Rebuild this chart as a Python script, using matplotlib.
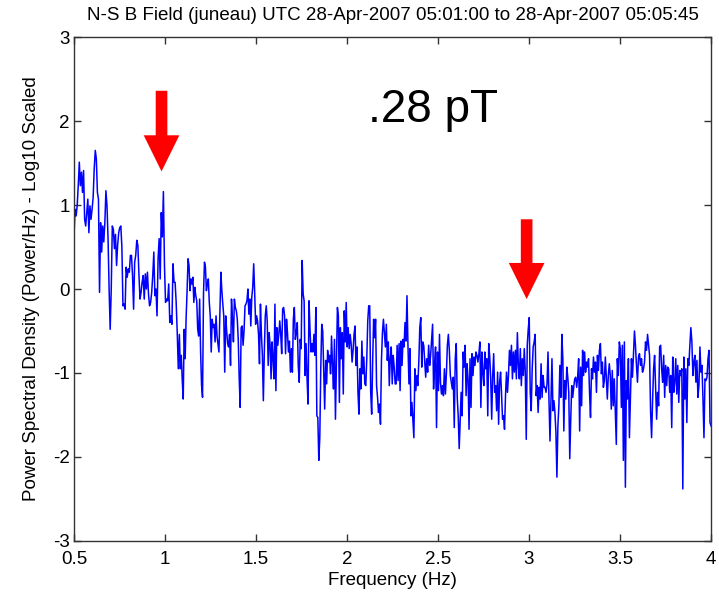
import numpy as np
import matplotlib
matplotlib.use("Agg")
import matplotlib.pyplot as plt
from matplotlib.patches import FancyArrow

plt.rcParams["font.family"] = ["Liberation Sans", "DejaVu Sans"]
plt.rcParams["axes.unicode_minus"] = False

# Log10 PSD values, in six consecutive frequency pieces
seg_edges = [0.5, 1.079, 1.673, 2.270, 2.860, 3.452, 4.0]

psd_seg1 = [
    0.62, 0.95, 0.87, 0.99, 1.23, 1.51, 1.23, 1.39, 1.15, 1.41,
    0.83, 0.75, 0.91, 1.07, 0.67, 0.99, 0.83, 0.95, 1.09, 1.43,
    1.65, 1.55, 1.15, 1.07, -0.04, 0.79, 0.44, 0.75, 0.56, 0.79,
    1.17, 0.99, 0.60, 0.00, -0.48, 0.00, 0.75, 0.71, 0.48, 0.65,
    0.28, 0.52, 0.67, 0.73, 0.75, 0.50, -0.20, -0.18, -0.24, 0.26,
    0.14, 0.24, 0.20, 0.40, 0.40, 0.16, -0.24, 0.32, 0.40, 0.58,
    0.52, 0.18, -0.12, -0.04, 0.08, 0.16, -0.12, 0.18, 0.00, 0.20,
    -0.06, -0.20, -0.16, -0.04, 0.16, 0.44, -0.08, 0.00, -0.32, 0.36,
    0.60, 0.12, 0.91, 0.62, 1.16, 0.28, -0.16, -0.12, -0.14, 0.06,
    -0.40, -0.32, -0.42, 0.30, 0.08, 0.08, -0.16, -0.52, -0.95,
]

psd_seg2 = [
    -0.54, -0.95, -0.79, -1.09, -1.31, -0.48, -0.83, -0.34, -0.02, 0.36,
    0.28, -0.02, 0.12, 0.06, 0.14, -0.16, 0.02, -0.08, -0.14, -0.48,
    -0.56, -0.12, -0.75, -1.15, -1.29, -0.06, 0.32, 0.26, -0.02, 0.06,
    0.12, -0.16, -0.32, -0.75, -0.36, -0.46, -0.42, -0.63, -0.32, -0.56,
    -0.65, -0.75, -0.30, 0.20, -0.02, -0.18, -0.32, -0.99, -0.32, -0.50,
    -0.65, -0.69, -0.54, -0.91, -0.12, -0.36, -0.63, -0.12, -0.22, -0.26,
    -0.36, -0.60, -1.07, -1.41, -0.46, -0.44, -0.67, -0.50, -0.20, -0.18,
    -0.14, 0.00, -0.30, -0.12, -0.44, -0.10, 0.02, 0.30, -0.04, -0.42,
    -0.32, -0.38, -0.54, -0.89, -0.18, -0.54, -0.79, -1.33, -0.75, -0.32,
    -0.20, -0.38, -0.91, -0.52, -0.67, -1.07, -0.63, -0.83, -1.07, -0.18,
    -1.21, -0.46, -0.67, -0.54, -0.38, -0.54, -0.77, -0.24, -0.22, -0.32,
    -0.77, -0.36,
]

psd_seg3 = [
    -0.52, -0.75, -0.62, -0.99, -0.71, -0.99, -0.36, -0.22, -0.60, -0.52,
    -0.40, -0.91, -1.11, -0.60, -0.71, 0.34, -0.06, -0.14, -1.03, -0.65,
    -1.07, -1.37, -0.14, -0.48, -0.75, -0.65, -0.75, -0.54, -0.79, -0.22,
    -1.51, -1.53, -2.04, -1.77, -0.95, -0.42, -0.50, -0.95, -1.43, -0.85,
    -1.13, -0.73, -0.87, -0.79, -1.01, -0.56, -0.91, -1.19, -0.60, -1.55,
    -0.89, -0.22, -0.32, -1.35, -0.46, -0.83, -0.52, -1.25, -0.26, -0.63,
    -0.16, -0.69, -0.46, -0.71, -0.54, -0.65, -0.87, -0.73, -0.54, -0.44,
    -0.91, -0.69, -1.23, -1.49, -0.95, -1.19, -0.62, -1.01, -0.81, -1.13,
    -1.15, -0.83, -0.38, -0.20, -0.20, -1.23, -1.49, -0.87, -0.36, -0.58,
    -0.36, -1.15, -1.29, -1.47, -1.37, -1.61, -0.85, -0.52, -0.36, -0.52,
    -0.69, -0.42, -0.85, -0.63, -1.15, -0.83, -0.69, -1.13, -0.79, -0.93,
    -1.13,
]

psd_seg4 = [
    -1.13, -0.67, -1.09, -0.65, -1.21, -0.62, -0.91, -0.60, -0.69, -0.40,
    -0.62, -0.08, -0.67, -1.13, -0.71, -1.51, -1.35, -1.55, -1.77, -0.95,
    -1.21, -1.03, -1.15, -0.87, -0.46, -0.34, -0.93, -0.63, -0.67, -0.85,
    -1.05, -0.83, -0.99, -0.67, -0.91, -0.79, -0.60, -0.42, -1.19, -0.91,
    -0.69, -1.65, -0.75, -1.21, -0.54, -1.11, -1.25, -1.15, -1.27, -0.95,
    -1.25, -1.01, -0.67, -0.54, -0.73, -1.03, -1.11, -1.19, -1.05, -1.65,
    -0.83, -0.65, -1.29, -1.51, -1.90, -1.57, -1.23, -1.51, -0.75, -0.93,
    -0.67, -1.27, -0.89, -1.07, -1.67, -0.83, -1.41, -0.77, -1.03, -0.81,
    -0.91, -0.75, -0.79, -0.87, -0.77, -0.63, -1.41, -0.75, -0.99, -1.15,
    -0.75, -0.95, -0.83, -1.51, -0.65, -0.81, -1.07, -1.55, -1.03, -0.77,
    -1.23, -1.15, -1.45, -0.99, -1.61, -1.11, -0.99, -1.25, -1.55,
]

psd_seg5 = [
    -1.51, -1.67, -1.27, -0.99, -1.23, -1.03, -0.73, -0.91, -0.67, -1.07,
    -0.75, -0.99, -0.73, -1.07, -0.52, -0.91, -1.07, -0.71, -1.15, -0.83,
    -1.03, -0.71, -0.99, -1.79, -0.67, -0.48, -0.34, -1.23, -1.45, -0.95,
    -0.69, -0.63, -0.54, -1.27, -1.15, -1.47, -1.17, -1.31, -0.89, -1.29,
    -1.03, -1.17, -1.17, -1.23, -1.13, -0.75, -1.33, -1.81, -1.31, -0.83,
    -1.45, -1.33, -1.47, -1.71, -2.24, -1.63, -1.39, -0.91, -1.29, -0.54,
    -0.83, -1.69, -1.09, -1.31, -0.93, -1.05, -1.23, -2.02, -1.55, -1.15,
    -1.29, -1.17, -1.07, -1.05, -1.17, -1.05, -0.83, -1.69, -0.93, -1.39,
    -0.73, -1.03, -0.75, -0.99, -0.87, -0.93, -0.83, -1.23, -1.53, -0.95,
    -1.07, -0.81, -0.99, -0.87, -1.23, -0.79, -0.97, -0.73, -0.65, -1.01,
    -0.87, -1.17, -1.09, -0.81, -1.07, -1.31, -1.03, -0.89, -1.03,
]

psd_seg6 = [
    -1.43, -0.97, -1.39, -1.07, -1.47, -1.85, -0.83, -1.03, -0.63, -0.71,
    -1.41, -0.67, -2.04, -0.63, -2.36, -1.09, -1.31, -0.83, -1.77, -1.31,
    -0.83, -1.05, -0.79, -0.50, -0.67, -0.91, -1.11, -0.81, -0.77, -0.91,
    -0.83, -0.99, -0.95, -0.87, -0.63, -0.73, -0.54, -0.67, -0.79, -1.45,
    -1.77, -1.33, -0.95, -0.79, -1.17, -1.55, -1.23, -1.39, -0.69, -0.67,
    -0.95, -1.11, -0.79, -1.29, -0.91, -1.15, -0.93, -0.95, -1.23, -1.03,
    -1.65, -0.81, -1.23, -1.11, -0.83, -1.25, -0.91, -1.35, -0.97, -1.03,
    -0.95, -2.38, -0.81, -1.31, -0.95, -1.59, -0.83, -0.91, -0.67, -0.46,
    -0.63, -1.03, -0.87, -0.79, -1.11, -0.85, -1.29, -1.15, -0.69, -0.99,
    -0.91, -1.31, -1.77, -1.07, -1.09, -1.05, -0.83, -0.73, -1.59, -1.63,
]

# peak markers: (frequency, top of shaft, tip)
arrow_freqs = [0.981, 2.987]
arrow_tops = [2.36, 0.83]
arrow_tips = [1.40, -0.12]

TITLE = "N-S B Field (juneau) UTC 28-Apr-2007 05:01:00 to 28-Apr-2007 05:05:45"
FS = 13.5


def build_series():
    segs = [psd_seg1, psd_seg2, psd_seg3, psd_seg4, psd_seg5, psd_seg6]
    freqs = []
    for i, seg in enumerate(segs):
        last = i == len(segs) - 1
        freqs.append(np.linspace(seg_edges[i], seg_edges[i + 1], len(seg), endpoint=last))
    return np.concatenate(freqs), np.concatenate([np.array(s) for s in segs])


freq, psd = build_series()

fig = plt.figure(figsize=(7.19, 5.96), dpi=100)
ax = fig.add_axes([0.1029, 0.0923, 0.8860, 0.8456])

ax.plot(freq, psd, color="#0000ff", linewidth=1.1)

for f, top, tip in zip(arrow_freqs, arrow_tops, arrow_tips):
    ax.add_patch(FancyArrow(f, top, 0, tip - top, width=0.064, head_width=0.196,
                            head_length=0.43, length_includes_head=True,
                            color="#ff0000", linewidth=0))

ax.text(2.115, 1.99, ".28 pT", fontsize=33, color="black", ha="left", va="baseline")

ax.set_xlim(0.5, 4)
ax.set_ylim(-3, 3)
ax.set_xticks(np.arange(0.5, 4.01, 0.5))
ax.set_xticklabels(["0.5", "1", "1.5", "2", "2.5", "3", "3.5", "4"])
ax.set_yticks(np.arange(-3, 4, 1))
ax.tick_params(direction="in", top=True, right=True, length=5, width=1,
               labelsize=FS, color="#333333")
ax.tick_params(axis="x", pad=7)
ax.tick_params(axis="y", pad=3)
for sp in ax.spines.values():
    sp.set_color("#333333")
    sp.set_linewidth(1.0)

ax.set_title(TITLE, fontsize=FS, pad=12)
ax.set_xlabel("Frequency (Hz)", fontsize=FS, labelpad=3)
ax.set_ylabel("Power Spectral Density (Power/Hz) - Log10 Scaled", fontsize=FS, labelpad=9)

fig.savefig("out.png", dpi=100)
